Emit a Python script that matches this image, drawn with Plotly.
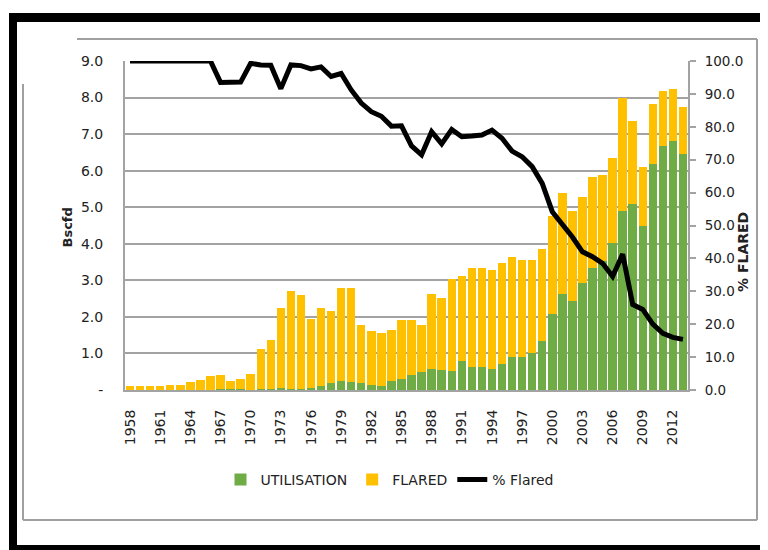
import plotly.graph_objects as go

years = list(range(1958, 2014))

utilisation = [0, 0, 0, 0, 0, 0, 0, 0, 0,
               0.03, 0.02, 0.02, 0.01, 0.02, 0.02, 0.05, 0.04, 0.04, 0.05, 0.12,
               0.18, 0.25, 0.22, 0.18, 0.15, 0.12, 0.25, 0.30, 0.40, 0.50,
               0.58, 0.55, 0.52, 0.80, 0.62, 0.63, 0.58, 0.71, 0.89, 0.91,
               1.00, 1.35, 2.09, 2.62, 2.44, 2.94, 3.35, 3.53, 4.03, 4.90,
               5.08, 4.48, 6.17, 6.67, 6.81, 6.45]

flared = [0.12, 0.12, 0.12, 0.12, 0.13, 0.15, 0.21, 0.27, 0.37,
          0.38, 0.22, 0.28, 0.42, 1.10, 1.36, 2.19, 2.67, 2.57, 1.88, 2.12,
          1.97, 2.54, 2.57, 1.59, 1.46, 1.43, 1.40, 1.61, 1.51, 1.27,
          2.05, 1.98, 2.51, 2.33, 2.71, 2.70, 2.70, 2.76, 2.75, 2.64,
          2.55, 2.50, 2.66, 2.77, 2.46, 2.33, 2.47, 2.34, 2.32, 3.10,
          2.27, 1.61, 1.65, 1.51, 1.42, 1.29]

pct_flared = [100, 100, 100, 100, 100, 100, 100, 100, 100,
              93.5, 93.5, 93.6, 99.3, 98.8, 98.7, 91.6, 98.8, 98.6, 97.6, 98.2,
              95.3, 96.2, 91.2, 87.2, 84.6, 83.2, 80.2, 80.3, 74.2, 71.5,
              78.5, 74.8, 79.2, 77.0, 77.2, 77.5, 79.0, 76.5, 72.6, 70.9,
              67.9, 62.8, 54.2, 50.5, 46.5, 42.0, 40.5, 38.5, 34.5, 41.3,
              26.0, 24.5, 20.0, 17.2, 16.0, 15.4]

x_tick_years = list(range(1958, 2013, 3))
left_tickvals = [0, 1, 2, 3, 4, 5, 6, 7, 8, 9]
left_ticktext = ["-", "1.0", "2.0", "3.0", "4.0", "5.0", "6.0", "7.0", "8.0", "9.0"]

# page is rendered with an 8px body margin, so the figure is offset by 8px
OFF = 8
W, H = 768 - OFF, 550 - OFF
L, R, T, B = 125, 688, 61, 390  # plot area in page pixels

def px(xp):
    return (xp - L) / (R - L)

def py(yp):
    return (B - yp) / (B - T)

GREEN = "#6FAC46"
YELLOW = "#FFC000"
GRID = "#A3A3A3"
FONT = "DejaVu Sans"
TXT = "#222222"

fig = go.Figure()
fig.add_trace(go.Bar(x=years, y=utilisation, name="UTILISATION",
                     marker=dict(color=GREEN, line=dict(width=0))))
fig.add_trace(go.Bar(x=years, y=flared, name="FLARED",
                     marker=dict(color=YELLOW, line=dict(width=0))))
fig.add_trace(go.Scatter(x=years, y=pct_flared, name="% Flared", yaxis="y2",
                         mode="lines", line=dict(color="black", width=5)))

shapes = []
# black outer frame
for (x0, y0, x1, y1) in [(9, 13, 790, 22), (9, 13, 17, 570), (9, 545, 790, 570)]:
    shapes.append(dict(type="rect", xref="paper", yref="paper",
                       x0=px(x0), x1=px(x1), y0=py(y0), y1=py(y1),
                       fillcolor="black", line=dict(width=0), layer="above"))
# inner gray frame
for (x0, y0, x1, y1) in [(77, 39, 757, 39), (757, 39, 757, 520),
                         (23, 520, 757, 520), (23, 84, 23, 520)]:
    shapes.append(dict(type="line", xref="paper", yref="paper",
                       x0=px(x0), x1=px(x1), y0=py(y0), y1=py(y1),
                       line=dict(color="#A0A0A0", width=2), layer="above"))

fig.update_layout(
    width=W, height=H, autosize=False,
    margin=dict(l=L - OFF, r=W - (R - OFF), t=T - OFF, b=H - (B - OFF), pad=0),
    paper_bgcolor="white", plot_bgcolor="white",
    barmode="stack", bargap=0.16,
    font=dict(family=FONT, size=14, color=TXT),
    shapes=shapes,
    showlegend=True,
    legend=dict(orientation="h", x=px(390), xanchor="center",
                y=py(480), yanchor="middle", traceorder="normal",
                font=dict(family=FONT, size=14, color=TXT),
                bgcolor="rgba(0,0,0,0)"),
    xaxis=dict(range=[1957.5, 2013.5], tickvals=x_tick_years,
               tickangle=-90, showgrid=False, showline=True,
               linecolor=GRID, linewidth=2, ticks="outside", ticklen=12,
               tickcolor="rgba(0,0,0,0)", zeroline=False,
               tickfont=dict(family=FONT, size=14, color=TXT)),
    yaxis=dict(range=[0, 9], tickvals=left_tickvals, ticktext=left_ticktext,
               showgrid=True, gridcolor=GRID, gridwidth=2,
               showline=True, linecolor=GRID, linewidth=2, zeroline=False,
               ticks="outside", ticklen=17, tickcolor="rgba(0,0,0,0)",
               tickfont=dict(family=FONT, size=14, color=TXT)),
    yaxis2=dict(range=[0, 100], overlaying="y", side="right",
                tickvals=[0, 10, 20, 30, 40, 50, 60, 70, 80, 90, 100],
                tickformat=".1f", showgrid=False, zeroline=False,
                showline=True, linecolor=GRID, linewidth=2,
                ticks="outside", ticklen=6, tickcolor=GRID, tickwidth=2,
                ticklabelstandoff=6,
                tickfont=dict(family=FONT, size=13.5, color=TXT)),
    annotations=[
        dict(text="<b>Bscfd</b>", xref="paper", yref="paper",
             x=px(57), y=py(228), textangle=-90, showarrow=False,
             font=dict(family=FONT, size=13, color=TXT)),
        dict(text="<b>% FLARED</b>", xref="paper", yref="paper",
             x=px(753), y=py(252), textangle=-90, showarrow=False,
             font=dict(family=FONT, size=14, color=TXT)),
    ],
)

fig.write_html("out.html")
